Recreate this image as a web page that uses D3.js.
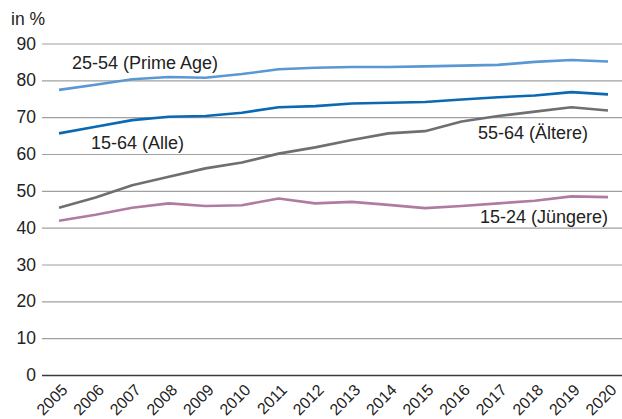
<!DOCTYPE html>
<html>
<head>
<meta charset="utf-8">
<script src="https://cdn.jsdelivr.net/npm/d3@7"></script>
<style>
  body { margin: 0; background: #fff; }
  svg { display: block; font-family: "Liberation Sans", Arial, sans-serif; }
</style>
</head>
<body>
<div id="chart"></div>
<script>
"use strict"

//-----------------------------DATA-----------------------------//
const years = [2005, 2006, 2007, 2008, 2009, 2010, 2011, 2012, 2013, 2014, 2015, 2016, 2017, 2018, 2019, 2020];
const primeAge = [77.4, 78.8, 80.3, 80.9, 80.7, 81.7, 83.0, 83.4, 83.6, 83.6, 83.8, 84.0, 84.2, 85.0, 85.5, 85.1];
const alle = [65.6, 67.4, 69.2, 70.1, 70.3, 71.2, 72.7, 73.0, 73.7, 73.9, 74.1, 74.8, 75.4, 75.9, 76.8, 76.2];
const aeltere = [45.4, 48.2, 51.5, 53.8, 56.1, 57.7, 60.1, 61.8, 63.8, 65.6, 66.2, 68.8, 70.3, 71.5, 72.7, 71.8];
const juengere = [41.9, 43.5, 45.4, 46.6, 45.9, 46.1, 47.9, 46.6, 47.0, 46.2, 45.3, 45.9, 46.6, 47.3, 48.5, 48.3];
const yTicks = [0, 10, 20, 30, 40, 50, 60, 70, 80, 90];

const series = [
    { name: "25-54 (Prime Age)", values: primeAge, color: "#5b97d3", lx: 72, ly: 69 },
    { name: "15-64 (Alle)", values: alle, color: "#0b69b3", lx: 91, ly: 149 },
    { name: "55-64 (Ältere)", values: aeltere, color: "#6f6f72", lx: 478, ly: 139 },
    { name: "15-24 (Jüngere)", values: juengere, color: "#b07ba1", lx: 480, ly: 223 }
];

//------------------------------SVG-----------------------------//
const width = 622;
const height = 419;

const svg = d3.select("#chart").append("svg")
    .attr("width", width)
    .attr("height", height);

//----------------------------SCALES----------------------------//
const xScale = d3.scaleLinear().domain([2005, 2020]).range([59, 608]);
const yScale = d3.scaleLinear().domain([0, 90]).range([375, 43.5]);

//-----------------------------AXES-----------------------------//
const yaxis = d3.axisLeft(yScale)
    .tickValues(yTicks)
    .tickSize(-(width - 42))
    .tickPadding(7);

const yaxisEl = svg.append("g")
    .attr("transform", "translate(42,0)")
    .call(yaxis);
yaxisEl.select(".domain").remove();
yaxisEl.selectAll(".tick line")
    .attr("stroke", d => d === 0 ? "#3a3a3a" : "#a0a0a0")
    .attr("stroke-width", d => d === 0 ? 1.6 : 1.2);
yaxisEl.selectAll(".tick text")
    .attr("fill", "#222")
    .style("font-size", "17.5px")
    .attr("x", -6);

const xaxis = d3.axisBottom(xScale)
    .tickValues(years)
    .tickFormat(d3.format("d"))
    .tickSize(0);

const xaxisEl = svg.append("g")
    .attr("transform", "translate(0,375)")
    .call(xaxis);
xaxisEl.select(".domain").remove();
xaxisEl.selectAll(".tick text")
    .attr("fill", "#222")
    .style("font-size", "16px")
    .style("text-anchor", "end")
    .attr("x", 0)
    .attr("y", 0)
    .attr("dy", 0)
    .attr("transform", "translate(9,16) rotate(-45)");

svg.append("text")
    .attr("x", 11)
    .attr("y", 25)
    .attr("fill", "#222")
    .style("font-size", "17.5px")
    .text("in %");

//----------------------------LINES-----------------------------//
const line = d3.line()
    .x((d, i) => xScale(years[i]))
    .y(d => yScale(d));

svg.selectAll(".series")
    .data(series)
    .enter()
    .append("path")
    .attr("class", "series")
    .attr("fill", "none")
    .attr("stroke", d => d.color)
    .attr("stroke-width", 2.6)
    .attr("stroke-linejoin", "round")
    .attr("d", d => line(d.values));

svg.selectAll(".label")
    .data(series)
    .enter()
    .append("text")
    .attr("class", "label")
    .attr("x", d => d.lx)
    .attr("y", d => d.ly)
    .attr("fill", "#222")
    .style("font-size", "18px")
    .text(d => d.name);
</script>
</body>
</html>
